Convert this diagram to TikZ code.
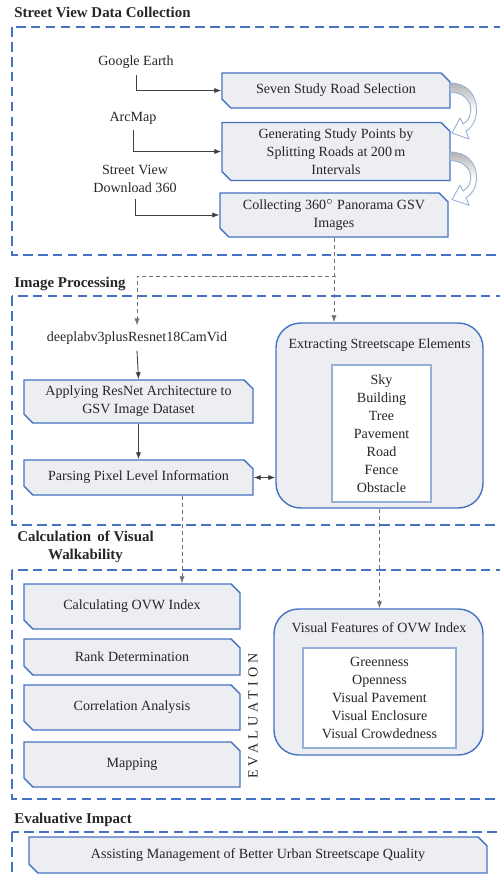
\documentclass[tikz,border=0pt]{standalone}
\usepackage{fontspec}
\setmainfont{Liberation Serif}
\newfontfamily\spacedfont[LetterSpace=30]{Liberation Serif}
\usetikzlibrary{arrows.meta,shapes.misc,calc}

\definecolor{frameblue}{RGB}{68,114,196}
\definecolor{boxfill}{RGB}{236,238,241}
\definecolor{listline}{RGB}{150,175,215}

\begin{document}
\begin{tikzpicture}[
    x=0.02cm, y=-0.02cm,
    every node/.style={font=\fontsize{8}{10.2}\selectfont, text=black!85},
    head/.style={font=\fontsize{8.5}{10.5}\selectfont\bfseries, inner sep=0pt},
    frame/.style={draw=frameblue, line width=0.8pt, dash pattern=on 5.5pt off 3pt},
    stepbox/.style={chamfered rectangle, chamfered rectangle corners={north east,south west},
        chamfered rectangle xsep=2.5pt, chamfered rectangle ysep=2.5pt,
        draw=frameblue, fill=boxfill, line width=0.8pt, align=center, inner sep=1pt},
    panel/.style={draw=frameblue, fill=boxfill, rounded corners=14pt, line width=0.8pt},
    listbox/.style={draw=listline, fill=white, line width=0.6pt, align=center},
    arr/.style={-{Latex[length=4pt,width=3pt]}, black!75, line width=0.5pt},
    darr/.style={-{Latex[length=4pt,width=3pt]}, black!55, line width=0.5pt, dash pattern=on 2.5pt off 1.5pt},
    turnarrow/.pic={
        \path[draw=listline, line width=0.5pt, top color=black!30, bottom color=white, middle color=white]
            (0,0) .. controls (32,0) and (32,40) .. (16,48) -- (19,56) -- (2,50) -- (10,35)
            -- (13,41) .. controls (25,35) and (25,10) .. (0,9) -- cycle;}
]
\useasboundingbox (0,0) rectangle (500,877);
\clip (0,0) rectangle (500,877);

% Street view data collection
\node[head, anchor=west] (hcollect) at (14,12) {Street View Data Collection};
\draw[frame] (12,27) rectangle (530,255);

\node (gearth) at (136,62) {Google Earth};
\node (arcmap) at (133,118) {ArcMap};
\node[align=center] (svdl) at (135,179) {Street View\\Download 360};

\node[stepbox, minimum width=4.56cm, minimum height=0.7cm] (roadsel) at (336,90.5) {Seven Study Road Selection};
\node[stepbox, minimum width=4.56cm, minimum height=1.14cm] (points) at (336,151.5) {Generating Study Points by\\Splitting Roads at 200\,m\\Intervals};
\node[stepbox, minimum width=4.56cm, minimum height=0.88cm] (collect) at (334,215) {Collecting 360$^{\circ}$ Panorama GSV\\Images};

\draw[arr] (gearth.south) |- (roadsel.west);
\draw[arr] (arcmap.south) |- (points.west);
\draw[arr] (svdl.south) |- (collect.west);

\pic at (450,83) {turnarrow};
\pic[yscale=0.95] at (450,152) {turnarrow};

% Image processing
\node[head, anchor=west] (himage) at (14,284) {Image Processing};
\draw[frame] (12,296) rectangle (530,525);

\node (deeplab) at (137,338) {deeplabv3plusResnet18CamVid};
\node[stepbox, minimum width=4.58cm, minimum height=0.86cm] (resnet) at (138.5,401.5) {Applying ResNet Architecture to\\GSV Image Dataset};
\node[stepbox, minimum width=4.58cm, minimum height=0.7cm] (parse) at (138.5,477.5) {Parsing Pixel Level Information};

\node[panel, minimum width=4.14cm, minimum height=3.7cm] (extract) at (379.5,415.5) {};
\node (extracttitle) at (379.5,345) {Extracting Streetscape Elements};
\node[listbox, minimum width=1.98cm, minimum height=2.74cm] (elements) at (381.5,433.5)
    {Sky\\Building\\Tree\\Pavement\\Road\\Fence\\Obstacle};

\coordinate (split) at (336,276);
\draw[darr] (collect.south) -- (collect.south |- extract.north);
\draw[darr] (split) -| (deeplab.north);
\draw[arr] (deeplab.south) -- (resnet.north);
\draw[arr] (resnet.south) -- (parse.north);
\draw[{Latex[length=4pt,width=3pt]}-{Latex[length=4pt,width=3pt]}, black!75, line width=0.5pt]
    (parse.east) -- (parse.east -| extract.west);

% Calculation of visual walkability
\node[head, align=center] (hcalc) at (85.5,547) {Calculation\, of Visual\\Walkability};
\draw[frame] (12,570) rectangle (530,799);

\node[stepbox, minimum width=4.32cm, minimum height=0.9cm] (ovw) at (132,606.5) {Calculating OVW Index};
\node[stepbox, minimum width=4.32cm, minimum height=0.72cm] (rank) at (132,657) {Rank Determination};
\node[stepbox, minimum width=4.32cm, minimum height=0.9cm] (corr) at (132,707.5) {Correlation Analysis};
\node[stepbox, minimum width=4.32cm, minimum height=0.9cm] (mapping) at (132,764.5) {Mapping};
\node[rotate=90, font=\spacedfont\fontsize{8}{10}\selectfont] (evallab) at (253,716) {EVALUATION};

\node[panel, minimum width=4.18cm, minimum height=2.92cm] (features) at (378.5,682) {};
\node (featurestitle) at (379,628) {Visual Features of OVW Index};
\node[listbox, minimum width=3.06cm, minimum height=2cm] (indices) at (379.5,698)
    {Greenness\\Openness\\Visual Pavement\\Visual Enclosure\\Visual Crowdedness};

\coordinate (pdrop) at ($(parse.south)+(43.5,0)$);
\draw[darr] (pdrop) -- (pdrop |- ovw.north);
\draw[darr] (extract.south) -- (extract.south |- features.north);

% Evaluative impact
\node[head, anchor=west] (himpact) at (14,820) {Evaluative Impact};
\draw[frame] (12,832) rectangle (530,900);
\node[stepbox, minimum width=9.16cm, minimum height=0.72cm] (assist) at (258,855) {Assisting Management of Better Urban Streetscape Quality};
\end{tikzpicture}
\end{document}
